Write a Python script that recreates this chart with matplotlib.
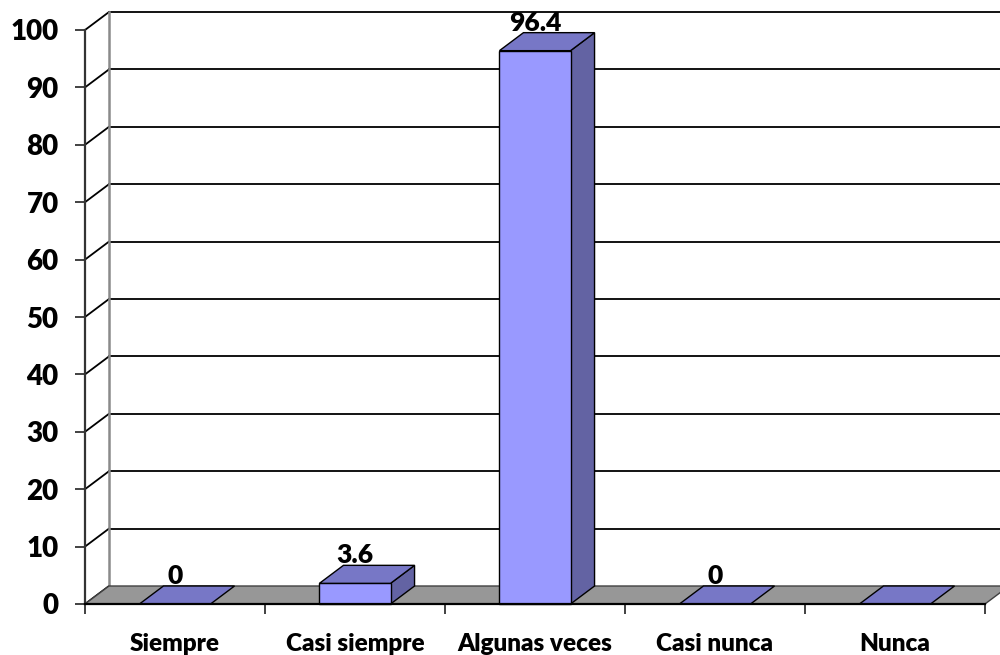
import matplotlib
matplotlib.use("Agg")
import matplotlib.pyplot as plt
from matplotlib.patches import Polygon, Rectangle

categories = ["Siempre", "Casi siempre", "Algunas veces", "Casi nunca", "Nunca"]
values = [0, 3.6, 96.4, 0, 0]
value_labels = ["0", "3.6", "96.4", "0", ""]
y_ticks = [0, 10, 20, 30, 40, 50, 60, 70, 80, 90, 100]

FONT = "Lato"
FRONT = "#9999FF"
TOP = "#7777C6"
SIDE = "#6363A3"
FLOOR = "#979797"

W, H = 1000, 655
fig = plt.figure(figsize=(W / 100, H / 100), dpi=100)
ax = fig.add_axes([85 / W, (H - 604) / H, 900 / W, (604 - 30) / H])
ax.set_xlim(-0.5, len(categories) - 0.5)
ax.set_ylim(0, 100)

# 3D depth offsets in data units
dx = 24 / 180.0
dy = 18 / 5.74
bw = 0.395

xmin, xmax = -0.5, len(categories) - 0.5

# Left side wall diagonals and back wall gridlines
for v in y_ticks:
    ax.plot([xmin, xmin + dx], [v, v + dy], color="black", lw=1.3, clip_on=False, zorder=1)
    if v > 0:
        ax.plot([xmin + dx, xmax + dx + 0.2], [v + dy, v + dy], color="black", lw=1.3,
                clip_on=False, zorder=1)
# back vertical edge of left wall
ax.plot([xmin + dx, xmin + dx], [dy, 100 + dy], color="#8a8a8a", lw=1.8, clip_on=False, zorder=1)

# Floor
floor = Polygon([(xmin, 0), (xmin + dx, dy), (xmax + dx, dy), (xmax, 0)], closed=True,
                facecolor=FLOOR, edgecolor="#404040", lw=1.0, clip_on=False, zorder=2)
ax.add_patch(floor)

# Bars
for i, v in enumerate(values):
    x0, x1 = i - bw / 2, i + bw / 2
    if v > 0:
        side = Polygon([(x1, 0), (x1 + dx, dy), (x1 + dx, v + dy), (x1, v)], closed=True,
                       facecolor=SIDE, edgecolor="black", lw=1.0, clip_on=False, zorder=3)
        ax.add_patch(side)
        front = Rectangle((x0, 0), bw, v, facecolor=FRONT, edgecolor="black", lw=1.0,
                          clip_on=False, zorder=4)
        ax.add_patch(front)
    top = Polygon([(x0, v), (x0 + dx, v + dy), (x1 + dx, v + dy), (x1, v)], closed=True,
                  facecolor=TOP, edgecolor="black", lw=1.0, clip_on=False, zorder=4)
    ax.add_patch(top)
    if value_labels[i]:
        ax.annotate(value_labels[i], (i, v + dy), xytext=(0, 1.5), textcoords="offset points",
                    ha="center", va="baseline", fontsize=19, fontweight="heavy",
                    family=FONT, zorder=6, annotation_clip=False)

# Axes styling
for s in ["top", "right"]:
    ax.spines[s].set_visible(False)
ax.spines["left"].set_color("#333333")
ax.spines["left"].set_linewidth(1.6)
ax.spines["bottom"].set_color("black")
ax.spines["bottom"].set_linewidth(1.6)
ax.spines["left"].set_zorder(5)
ax.spines["bottom"].set_zorder(5)
ax.patch.set_visible(False)

ax.set_yticks(y_ticks)
ax.set_yticklabels([str(t) for t in y_ticks])
ax.tick_params(axis="y", length=7, width=1.3, color="#333333", pad=12,
               labelsize=20)
ax.set_xticks([k - 0.5 for k in range(len(categories) + 1)])
ax.set_xticklabels([])
ax.set_xticks(list(range(len(categories))), minor=True)
ax.set_xticklabels(categories, minor=True)
ax.tick_params(axis="x", which="major", length=7, width=1.3, color="#333333")
ax.tick_params(axis="x", which="minor", length=0, pad=21, labelsize=17.5)
for lab in ax.get_yticklabels() + ax.get_xticklabels(minor=True):
    lab.set_fontfamily(FONT)
    lab.set_fontweight("heavy")

fig.savefig("out.png", dpi=100)
